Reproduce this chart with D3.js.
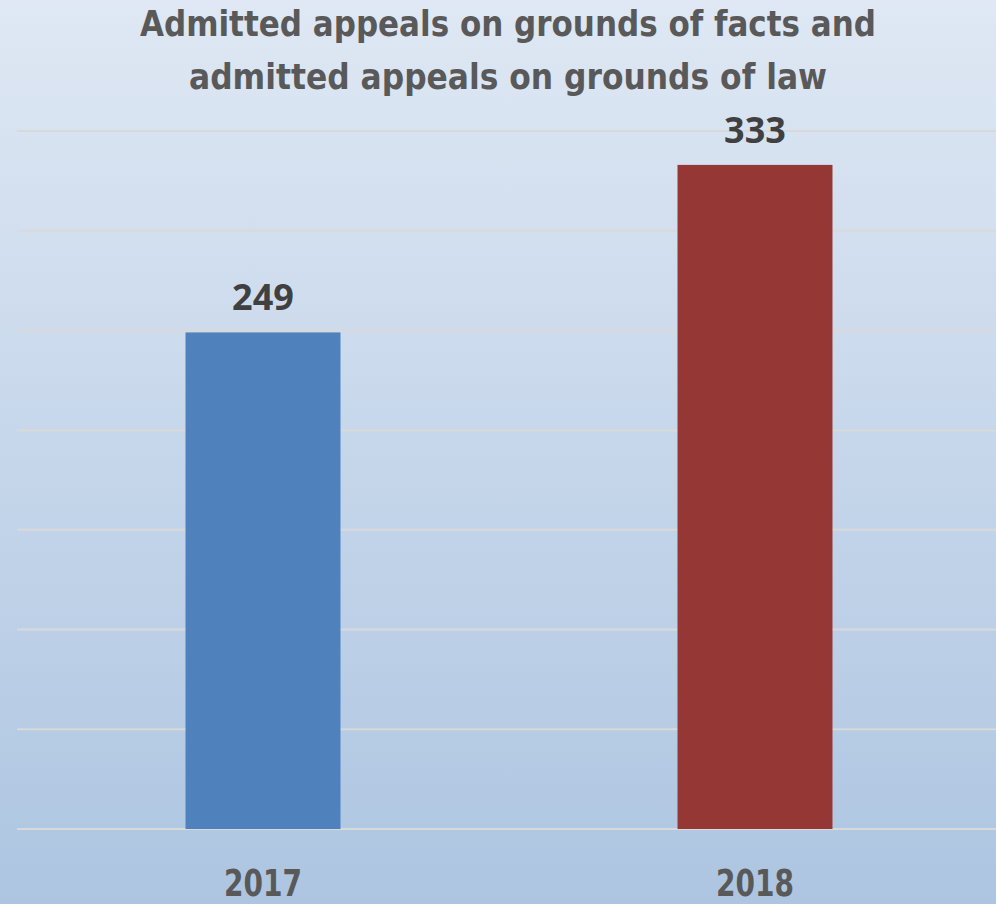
<!DOCTYPE html>
<html>
<head>
<meta charset="utf-8">
<script src="https://cdn.jsdelivr.net/npm/d3@7"></script>
<style>
  html, body { margin: 0; padding: 0; background: #fff; }
  svg { display: block; }
</style>
</head>
<body>
<div id="container"></div>
<script>
var years = ['2017', '2018'],
    values = [249, 333],
    barColors = ['#4f81bd', '#953735'],
    yTicks = [0, 50, 100, 150, 200, 250, 300, 350],
    titleLines = ['Admitted appeals on grounds of facts and', 'admitted appeals on grounds of law'],
    width = 996,
    height = 904,
    condensed = '"Liberation Sans Narrow", "DejaVu Sans Condensed", "Open Sans", sans-serif',
    svg, x, y, defs, grad;

svg = d3.select('#container').append('svg')
  .attr('width', width)
  .attr('height', height);

// background gradient
defs = svg.append('defs');
grad = defs.append('linearGradient')
  .attr('id', 'bg')
  .attr('x1', 0).attr('y1', 0).attr('x2', 0).attr('y2', 1);
grad.append('stop').attr('offset', '0%').attr('stop-color', '#dfe8f4');
grad.append('stop').attr('offset', '100%').attr('stop-color', '#adc5e1');

svg.append('rect')
  .attr('width', width)
  .attr('height', height)
  .attr('fill', 'url(#bg)');

x = d3.scaleBand()
  .domain(years)
  .range([17, 1001])
  .paddingInner(0.685)
  .paddingOuter(0.3425);

y = d3.scaleLinear()
  .domain([0, 350])
  .range([829, 131]);

// gridlines
svg.append('g')
  .selectAll('line')
  .data(yTicks)
  .enter()
  .append('line')
  .attr('x1', 17)
  .attr('x2', width)
  .attr('y1', function (d) { return y(d); })
  .attr('y2', function (d) { return y(d); })
  .attr('stroke', '#d9d9d9')
  .attr('stroke-width', 2);

// bars
svg.append('g')
  .selectAll('rect')
  .data(values)
  .enter()
  .append('rect')
  .attr('x', function (d, i) { return x(years[i]); })
  .attr('y', function (d) { return y(d); })
  .attr('width', x.bandwidth())
  .attr('height', function (d) { return y(0) - y(d); })
  .attr('fill', function (d, i) { return barColors[i]; });

// value labels
svg.append('g')
  .selectAll('text')
  .data(values)
  .enter()
  .append('text')
  .attr('x', function (d, i) { return x(years[i]) + x.bandwidth() / 2; })
  .attr('y', function (d) { return y(d) - 22; })
  .attr('text-anchor', 'middle')
  .attr('font-family', '"Open Sans", sans-serif')
  .attr('font-weight', 'bold')
  .attr('font-size', 36)
  .attr('fill', '#404040')
  .text(function (d) { return d; });

// category labels
svg.append('g')
  .selectAll('text')
  .data(years)
  .enter()
  .append('text')
  .attr('x', function (d) { return x(d) + x.bandwidth() / 2; })
  .attr('y', 896)
  .attr('text-anchor', 'middle')
  .attr('font-family', condensed)
  .attr('font-weight', 'bold')
  .attr('font-size', 37)
  .attr('textLength', 78)
  .attr('lengthAdjust', 'spacingAndGlyphs')
  .attr('fill', '#595959')
  .text(function (d) { return d; });

// title
svg.append('g')
  .selectAll('text')
  .data(titleLines)
  .enter()
  .append('text')
  .attr('x', 508)
  .attr('y', function (d, i) { return 36 + i * 53; })
  .attr('text-anchor', 'middle')
  .attr('font-family', condensed)
  .attr('font-weight', 'bold')
  .attr('font-size', 35)
  .attr('textLength', function (d, i) { return i === 0 ? 736 : 638; })
  .attr('lengthAdjust', 'spacingAndGlyphs')
  .attr('fill', '#595959')
  .text(function (d) { return d; });
</script>
</body>
</html>
